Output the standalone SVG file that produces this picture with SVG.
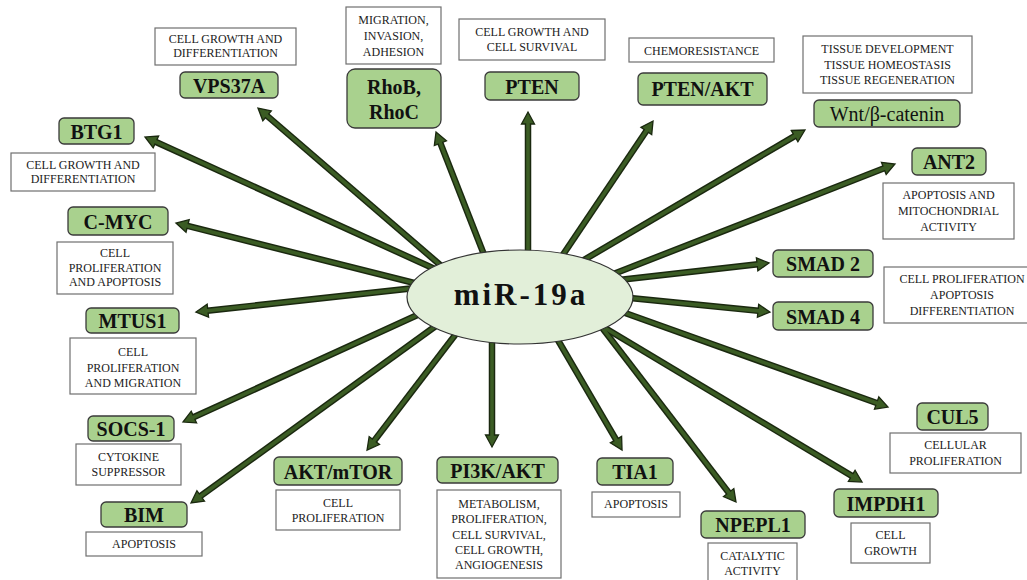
<svg xmlns="http://www.w3.org/2000/svg" width="1027" height="580" viewBox="0 0 1027 580">
<defs>
<marker id="ah" markerUnits="userSpaceOnUse" markerWidth="16" markerHeight="16" viewBox="-1 -8 15 16" refX="3" refY="0" orient="auto">
<path d="M0,-6.5 L12,0 L0,6.5 Z" fill="#3b5c24" stroke="#1a280f" stroke-width="1.3" stroke-linejoin="miter"/>
</marker>
<style>
text{font-family:'Liberation Serif','DejaVu Serif','Times New Roman',serif}
.g{fill:#a9d18e;stroke:#3a3a3a;stroke-width:1.3}
.d{fill:#ffffff;stroke:#6f6f6f;stroke-width:1.2}
.gt{font-size:20px;font-weight:bold;fill:#111;text-anchor:middle}
.wt{font-size:20px;fill:#111;text-anchor:middle}
.dt{font-size:12px;fill:#222;text-anchor:middle}
.mt{font-size:31px;font-weight:bold;fill:#111;text-anchor:middle;letter-spacing:3px}
.o{fill:none;stroke:#1a280f;stroke-width:6.5;marker-end:url(#ah)}
.i{fill:none;stroke:#3b5c24;stroke-width:3.6}
</style>
</defs>
<rect width="1027" height="580" fill="#ffffff"/>

<g id="connectors">
<line class="o" x1="460" y1="282" x2="264.8" y2="113.9"/>
<line class="o" x1="470" y1="285" x2="153.2" y2="140.7"/>
<line class="o" x1="490" y1="270" x2="439.3" y2="140.4"/>
<line class="o" x1="528" y1="270" x2="528" y2="121"/>
<line class="o" x1="552" y1="271" x2="648" y2="128.5"/>
<line class="o" x1="560" y1="274" x2="797.2" y2="134.6"/>
<line class="o" x1="575" y1="289" x2="886.6" y2="167.3"/>
<line class="o" x1="470" y1="297" x2="184.7" y2="225.2"/>
<line class="o" x1="470" y1="282" x2="204.9" y2="311"/>
<line class="o" x1="470" y1="291" x2="191.2" y2="418.3"/>
<line class="o" x1="480" y1="294" x2="198.3" y2="497.7"/>
<line class="o" x1="462" y1="326" x2="372.5" y2="442.9"/>
<line class="o" x1="492" y1="320" x2="492" y2="438"/>
<line class="o" x1="545" y1="318" x2="617.5" y2="442.2"/>
<line class="o" x1="590" y1="312" x2="730.5" y2="494.9"/>
<line class="o" x1="600" y1="325" x2="854.3" y2="477.4"/>
<line class="o" x1="600" y1="304" x2="879.5" y2="404"/>
<line class="o" x1="610" y1="281" x2="760.1" y2="264"/>
<line class="o" x1="610" y1="296" x2="761" y2="311.1"/>
<line class="i" x1="460" y1="282" x2="264.8" y2="113.9"/>
<line class="i" x1="470" y1="285" x2="153.2" y2="140.7"/>
<line class="i" x1="490" y1="270" x2="439.3" y2="140.4"/>
<line class="i" x1="528" y1="270" x2="528" y2="121"/>
<line class="i" x1="552" y1="271" x2="648" y2="128.5"/>
<line class="i" x1="560" y1="274" x2="797.2" y2="134.6"/>
<line class="i" x1="575" y1="289" x2="886.6" y2="167.3"/>
<line class="i" x1="470" y1="297" x2="184.7" y2="225.2"/>
<line class="i" x1="470" y1="282" x2="204.9" y2="311"/>
<line class="i" x1="470" y1="291" x2="191.2" y2="418.3"/>
<line class="i" x1="480" y1="294" x2="198.3" y2="497.7"/>
<line class="i" x1="462" y1="326" x2="372.5" y2="442.9"/>
<line class="i" x1="492" y1="320" x2="492" y2="438"/>
<line class="i" x1="545" y1="318" x2="617.5" y2="442.2"/>
<line class="i" x1="590" y1="312" x2="730.5" y2="494.9"/>
<line class="i" x1="600" y1="325" x2="854.3" y2="477.4"/>
<line class="i" x1="600" y1="304" x2="879.5" y2="404"/>
<line class="i" x1="610" y1="281" x2="760.1" y2="264"/>
<line class="i" x1="610" y1="296" x2="761" y2="311.1"/>
</g>

<g id="mir19a">
<ellipse cx="520" cy="297" rx="113" ry="47" fill="#e2efd9" stroke="#333" stroke-width="1.2"/>
<text class="mt" x="521" y="305">miR-19a</text>
</g>

<g id="vps37a">
<rect class="d" x="155" y="28" width="141" height="37"/>
<text class="dt" x="225.5" y="43">CELL GROWTH AND</text>
<text class="dt" x="225.5" y="57">DIFFERENTIATION</text>
<rect class="g" x="180" y="72" width="98" height="26" rx="5"/>
<text class="gt" x="229" y="93">VPS37A</text>
</g>

<g id="btg1">
<rect class="g" x="59" y="118" width="75" height="26" rx="5"/>
<text class="gt" x="96.5" y="139">BTG1</text>
<rect class="d" x="11" y="153" width="144" height="38"/>
<text class="dt" x="83" y="169">CELL GROWTH AND</text>
<text class="dt" x="83" y="183">DIFFERENTIATION</text>
</g>

<g id="rhob-rhoc">
<rect class="d" x="346" y="7" width="95" height="57"/>
<text class="dt" x="393.5" y="24">MIGRATION,</text>
<text class="dt" x="393.5" y="40">INVASION,</text>
<text class="dt" x="393.5" y="56">ADHESION</text>
<rect class="g" x="347" y="69" width="94" height="59" rx="8"/>
<text class="gt" x="394" y="94">RhoB,</text>
<text class="gt" x="394" y="119">RhoC</text>
</g>

<g id="pten">
<rect class="d" x="459" y="19" width="146" height="41"/>
<text class="dt" x="532" y="36">CELL GROWTH AND</text>
<text class="dt" x="532" y="51">CELL SURVIVAL</text>
<rect class="g" x="485" y="72" width="94" height="28" rx="5"/>
<text class="gt" x="532" y="94">PTEN</text>
</g>

<g id="pten-akt">
<rect class="d" x="629" y="38" width="145" height="24"/>
<text class="dt" x="701.5" y="55">CHEMORESISTANCE</text>
<rect class="g" x="638" y="73" width="129" height="32" rx="5"/>
<text class="gt" x="702.5" y="96">PTEN/AKT</text>
</g>

<g id="wnt">
<rect class="d" x="803" y="36" width="169" height="57"/>
<text class="dt" x="887.5" y="53">TISSUE DEVELOPMENT</text>
<text class="dt" x="887.5" y="68.5">TISSUE HOMEOSTASIS</text>
<text class="dt" x="887.5" y="84">TISSUE REGENERATION</text>
<rect class="g" x="814" y="100" width="146" height="27" rx="5"/>
<text class="wt" x="887" y="121">Wnt/β-catenin</text>
</g>

<g id="ant2">
<rect class="g" x="912" y="148" width="74" height="27" rx="5"/>
<text class="gt" x="949" y="169">ANT2</text>
<rect class="d" x="883" y="183" width="131" height="56"/>
<text class="dt" x="948.5" y="199">APOPTOSIS AND</text>
<text class="dt" x="948.5" y="215">MITOCHONDRIAL</text>
<text class="dt" x="948.5" y="231">ACTIVITY</text>
</g>

<g id="c-myc">
<rect class="g" x="68" y="207" width="100" height="28" rx="5"/>
<text class="gt" x="118" y="229">C-MYC</text>
<rect class="d" x="57" y="242" width="116" height="52"/>
<text class="dt" x="115" y="257">CELL</text>
<text class="dt" x="115" y="272">PROLIFERATION</text>
<text class="dt" x="115" y="286">AND APOPTOSIS</text>
</g>

<g id="mtus1">
<rect class="g" x="86" y="308" width="93" height="25" rx="5"/>
<text class="gt" x="132.5" y="328">MTUS1</text>
<rect class="d" x="70" y="338" width="126" height="56"/>
<text class="dt" x="133" y="356">CELL</text>
<text class="dt" x="133" y="372">PROLIFERATION</text>
<text class="dt" x="133" y="387">AND MIGRATION</text>
</g>

<g id="smad2">
<rect class="g" x="773" y="250" width="100" height="27" rx="5"/>
<text class="gt" x="823" y="271">SMAD 2</text>
</g>

<g id="smad4">
<rect class="g" x="773" y="302" width="100" height="28" rx="5"/>
<text class="gt" x="823" y="324">SMAD 4</text>
</g>

<g id="smad-function">
<rect class="d" x="884" y="267" width="158" height="56"/>
<text class="dt" x="962" y="283">CELL PROLIFERATION</text>
<text class="dt" x="962" y="299">APOPTOSIS</text>
<text class="dt" x="962" y="315">DIFFERENTIATION</text>
</g>

<g id="cul5">
<rect class="g" x="917" y="403" width="71" height="27" rx="5"/>
<text class="gt" x="952.5" y="424">CUL5</text>
<rect class="d" x="890" y="433" width="131" height="40"/>
<text class="dt" x="955.5" y="449">CELLULAR</text>
<text class="dt" x="955.5" y="465">PROLIFERATION</text>
</g>

<g id="impdh1">
<rect class="g" x="834" y="489" width="104" height="28" rx="5"/>
<text class="gt" x="886" y="511">IMPDH1</text>
<rect class="d" x="851" y="523" width="79" height="40"/>
<text class="dt" x="890.5" y="539">CELL</text>
<text class="dt" x="890.5" y="555">GROWTH</text>
</g>

<g id="npepl1">
<rect class="g" x="701" y="511" width="104" height="27" rx="5"/>
<text class="gt" x="753" y="532">NPEPL1</text>
<rect class="d" x="708" y="543" width="89" height="40"/>
<text class="dt" x="752.5" y="560">CATALYTIC</text>
<text class="dt" x="752.5" y="575">ACTIVITY</text>
</g>

<g id="tia1">
<rect class="g" x="597" y="458" width="76" height="27" rx="5"/>
<text class="gt" x="635" y="479">TIA1</text>
<rect class="d" x="592" y="492" width="88" height="25"/>
<text class="dt" x="636" y="508">APOPTOSIS</text>
</g>

<g id="pi3k-akt">
<rect class="g" x="437" y="457" width="121" height="26" rx="5"/>
<text class="gt" x="497.5" y="478">PI3K/AKT</text>
<rect class="d" x="437" y="490" width="124" height="88"/>
<text class="dt" x="499" y="508">METABOLISM,</text>
<text class="dt" x="499" y="523">PROLIFERATION,</text>
<text class="dt" x="499" y="539">CELL SURVIVAL,</text>
<text class="dt" x="499" y="554">CELL GROWTH,</text>
<text class="dt" x="499" y="569">ANGIOGENESIS</text>
</g>

<g id="akt-mtor">
<rect class="g" x="274" y="457" width="128" height="28" rx="5"/>
<text class="gt" x="338" y="479">AKT/mTOR</text>
<rect class="d" x="276" y="490" width="124" height="40"/>
<text class="dt" x="338" y="507">CELL</text>
<text class="dt" x="338" y="522">PROLIFERATION</text>
</g>

<g id="socs-1">
<rect class="g" x="88" y="416" width="86" height="25" rx="5"/>
<text class="gt" x="131" y="436">SOCS-1</text>
<rect class="d" x="76" y="444" width="105" height="41"/>
<text class="dt" x="128.5" y="461">CYTOKINE</text>
<text class="dt" x="128.5" y="476">SUPPRESSOR</text>
</g>

<g id="bim">
<rect class="g" x="101" y="502" width="86" height="25" rx="5"/>
<text class="gt" x="144" y="522">BIM</text>
<rect class="d" x="86" y="532" width="116" height="24"/>
<text class="dt" x="144" y="548">APOPTOSIS</text>
</g>
</svg>
